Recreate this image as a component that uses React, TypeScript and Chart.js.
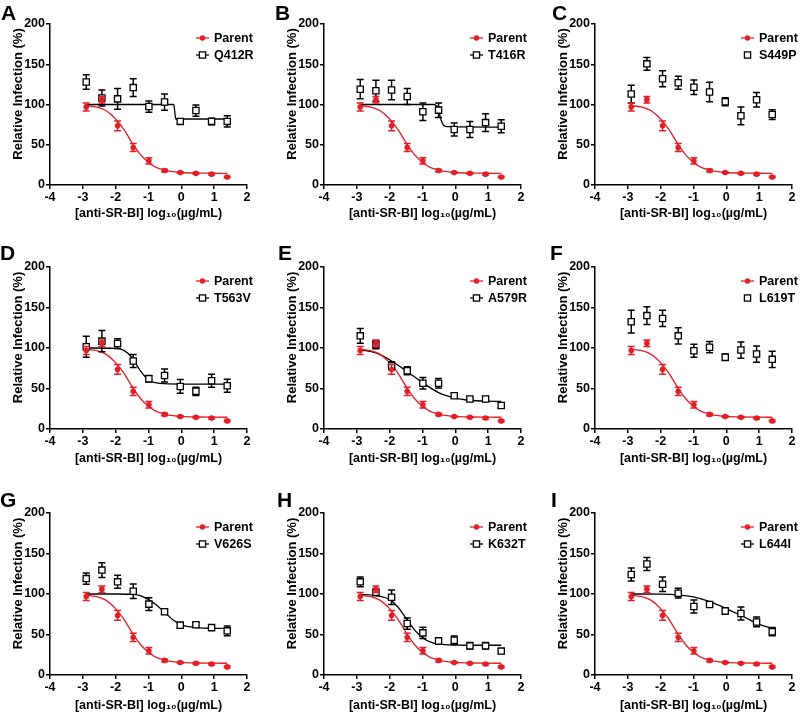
import { useEffect, useRef } from 'react';
import { Chart, registerables } from 'chart.js';

Chart.register(...registerables);

const FONT = 'Arial, "Liberation Sans", Helvetica, sans-serif';
const RED = '#e41e26';
const BLACK = '#000000';

// ---------- data ----------
const panelLetters = ['A', 'B', 'C', 'D', 'E', 'F', 'G', 'H', 'I'];
const parentName = 'Parent';
const mutantNames = ['Q412R', 'T416R', 'S449P', 'T563V', 'A579R', 'L619T', 'V626S', 'K632T', 'L644I'];
const xTickMin = -4;
const xTickMax = 2;
const yTickMax = 200;
const xTitle = '[anti-SR-BI] log₁₀(µg/mL)';
const yTitle = 'Relative Infection (%)';

// log10 of antibody concentration (µg/mL)
const logConc = [-2.896, -2.419, -1.942, -1.465, -0.988, -0.511, -0.033, 0.444, 0.921, 1.398];

const parentMean = [97, 106, 73.5, 46.5, 30, 18, 15.5, 14.5, 13.5, 10];
const parentSem = [5, 4, 6, 5, 4, 1.5, 1, 1, 1, 1];
const parentFitX = [-2.9, -2.6, -2.3, -2.0, -1.75, -1.5, -1.25, -1.0, -0.75, -0.5, -0.25, 0, 0.5, 1.0, 1.4];
const parentFitY = [98.5, 97, 92.5, 82, 69, 52.5, 38, 28, 21.5, 18.5, 16.5, 15.5, 14.8, 14.6, 14.5];

const q412rMean = [128, 108, 107, 121, 97.5, 103, 79, 92.5, 79, 79];
const q412rSem = [9, 10, 13, 11, 7, 10, 3, 7, 4, 7];
const q412rFitX = [-2.9, -0.23, -0.2, -0.17, 1.4];
const q412rFitY = [100, 100, 91, 82, 82];

const t416rMean = [119, 117, 118, 110, 91, 93, 69, 69, 77.5, 73];
const t416rSem = [12, 13, 12, 10, 11, 9, 8, 10, 11, 8];
const t416rFitX = [-2.9, -0.65, -0.55, -0.5, -0.45, -0.4, -0.35, -0.25, 1.4];
const t416rFitY = [100, 100, 97, 91, 83, 77, 74, 72.5, 72];

const s449pMean = [113, 150.5, 132, 127, 121.5, 115.5, 103.5, 86, 106, 87.5];
const s449pSem = [11, 8, 10, 8, 9, 12, 5, 11, 9, 6];

const t563vMean = [101.5, 108.5, 105.5, 84, 62, 66, 52.5, 46.5, 59.5, 53.5];
const t563vSem = [13, 13, 6, 8, 4, 8, 8.5, 5, 8, 8];
const t563vFitX = [-2.9, -2.0, -1.75, -1.5, -1.25, -1.0, -0.75, -0.5, 0, 1.4];
const t563vFitY = [100, 99.5, 97, 88, 72, 60.5, 57, 56, 55.5, 55.3];

const a579rMean = [115, 104, 78, 72, 56.5, 56.5, 41, 37, 37, 29];
const a579rSem = [9, 5, 5, 5, 7, 6, 3, 2, 3, 3];
const a579rFitX = [-2.9, -2.42, -1.94, -1.47, -0.99, -0.51, -0.03, 0.44, 0.92, 1.4];
const a579rFitY = [98, 94, 84, 71, 57, 45, 38.5, 35.5, 34.3, 34];

const l619tMean = [132.5, 140, 136.5, 115, 96.5, 101, 88.5, 97.5, 92.5, 86];
const l619tSem = [14, 11, 10, 10, 8, 7, 4, 10, 10, 10];

const v626sMean = [119, 129.5, 115, 103.5, 87.5, 78, 61.5, 62, 58.5, 54.5];
const v626sSem = [7, 9, 8, 9, 8, 3, 3.5, 3, 3, 6];
const v626sFitX = [-2.9, -2, -1.5, -1.25, -1.0, -0.75, -0.5, -0.25, 0, 0.5, 1, 1.4];
const v626sFitY = [100, 100, 99.5, 98, 93, 86, 77, 68, 62, 58.5, 57.6, 57.4];

const k632tMean = [115, 102, 96, 63.5, 52, 42, 43, 36, 36, 29.5];
const k632tSem = [6, 4, 9, 7, 7, 4, 5, 4, 4, 3];
const k632tFitX = [-2.9, -2.42, -2.0, -1.75, -1.5, -1.25, -1.0, -0.75, -0.5, 0, 1.4];
const k632tFitY = [99.5, 98, 93, 84, 70, 56, 46, 40.5, 38, 37, 36.7];

const l644iMean = [124, 137, 112, 101, 84.5, 87, 79, 76, 65.5, 53.5];
const l644iSem = [8, 8, 9, 6, 8, 3, 4, 8, 6, 5];
const l644iFitX = [-2.9, -2, -1.5, -1, -0.5, 0, 0.5, 1, 1.4];
const l644iFitY = [100, 99.8, 99, 96.5, 90.5, 82, 72.5, 62.5, 57.5];

const mutantMeans = [q412rMean, t416rMean, s449pMean, t563vMean, a579rMean, l619tMean, v626sMean, k632tMean, l644iMean];
const mutantSems = [q412rSem, t416rSem, s449pSem, t563vSem, a579rSem, l619tSem, v626sSem, k632tSem, l644iSem];
const mutantFitXs: (number[] | null)[] = [q412rFitX, t416rFitX, null, t563vFitX, a579rFitX, null, v626sFitX, k632tFitX, l644iFitX];
const mutantFitYs: (number[] | null)[] = [q412rFitY, t416rFitY, null, t563vFitY, a579rFitY, null, v626sFitY, k632tFitY, l644iFitY];

// ---------- layout ----------
const colX = [0, 274, 545];
const rowY = [0, 243, 489];
const rowH = [221, 223, 224];
const plotH = [161, 162, 162];
const PANEL_W = 255;
const PAD_TOP = 24;
const PAD_RIGHT = 8;
const Y_AXIS_W = 50;
const letterDX = [1, 1, 7, 0, 4, 5, 0, 3, 6];
const letterBaseline = [20, 17, 18];

const toPts = (xs: number[], ys: number[]) => xs.map((x, i) => ({ x, y: ys[i] }));

// ---------- plugins ----------
const errorBarPlugin = {
  id: 'errorBars',
  beforeDatasetDraw(chart: any, args: any) {
    const ds = chart.data.datasets[args.index];
    if (!ds.errors) return;
    const ctx = chart.ctx;
    const ys = chart.scales.y;
    ctx.save();
    ctx.strokeStyle = ds.barColor;
    ctx.lineWidth = 1.5;
    args.meta.data.forEach((pt: any, i: number) => {
      const v = ds.data[i].y;
      const e = ds.errors[i];
      const top = ys.getPixelForValue(v + e);
      const bot = ys.getPixelForValue(v - e);
      ctx.beginPath();
      ctx.moveTo(pt.x, top);
      ctx.lineTo(pt.x, bot);
      ctx.moveTo(pt.x - 3.5, top);
      ctx.lineTo(pt.x + 3.5, top);
      ctx.moveTo(pt.x - 3.5, bot);
      ctx.lineTo(pt.x + 3.5, bot);
      ctx.stroke();
    });
    ctx.restore();
  },
};

const decorPlugin = {
  id: 'decor',
  afterDraw(chart: any, _args: any, opts: any) {
    const { ctx, chartArea } = chart;
    const { left, top, bottom } = chartArea;
    ctx.save();
    // panel letter
    ctx.fillStyle = BLACK;
    ctx.font = `bold 21px ${FONT}`;
    ctx.textAlign = 'left';
    ctx.textBaseline = 'alphabetic';
    ctx.fillText(opts.letter, opts.letterX, opts.letterY);
    // y title
    ctx.save();
    ctx.translate(18, (top + bottom) / 2 - 10.5);
    ctx.rotate(-Math.PI / 2);
    ctx.font = `bold 13px ${FONT}`;
    ctx.textAlign = 'center';
    ctx.textBaseline = 'middle';
    ctx.fillText(yTitle, 0, 0);
    ctx.restore();
    // legend
    const entries = opts.entries;
    entries.forEach((en: any, k: number) => {
      const cy = top + 14 + k * 17;
      const x0 = left + 146;
      const x1 = left + 159;
      const cx = (x0 + x1) / 2;
      if (en.line) {
        ctx.strokeStyle = en.color;
        ctx.lineWidth = 1.3;
        ctx.beginPath();
        ctx.moveTo(x0, cy);
        ctx.lineTo(x1, cy);
        ctx.stroke();
      }
      if (en.marker === 'circle') {
        ctx.fillStyle = en.color;
        ctx.beginPath();
        ctx.arc(cx, cy, 2.7, 0, Math.PI * 2);
        ctx.fill();
      } else {
        ctx.fillStyle = '#ffffff';
        ctx.strokeStyle = en.color;
        ctx.lineWidth = 1.3;
        ctx.fillRect(cx - 3.1, cy - 3.1, 6.2, 6.2);
        ctx.strokeRect(cx - 3.1, cy - 3.1, 6.2, 6.2);
      }
      ctx.fillStyle = BLACK;
      ctx.font = `bold 12.5px ${FONT}`;
      ctx.textAlign = 'left';
      ctx.textBaseline = 'middle';
      ctx.fillText(en.label, left + 164, cy + 0.5);
    });
    ctx.restore();
  },
};

function buildConfig(idx: number): any {
  const row = Math.floor(idx / 3);
  const fx = mutantFitXs[idx];
  const fy = mutantFitYs[idx];
  const datasets: any[] = [
    {
      type: 'line',
      label: parentName,
      data: toPts(logConc, parentMean),
      errors: parentSem,
      barColor: RED,
      showLine: false,
      pointStyle: 'circle',
      pointRadius: 2.8,
      backgroundColor: RED,
      borderColor: RED,
      pointBorderWidth: 0,
      order: 0,
    },
    {
      type: 'line',
      label: mutantNames[idx],
      data: toPts(logConc, mutantMeans[idx]),
      errors: mutantSems[idx],
      barColor: BLACK,
      showLine: false,
      pointStyle: 'rect',
      pointRadius: 4.4,
      backgroundColor: '#ffffff',
      borderColor: BLACK,
      pointBorderWidth: 1.3,
      order: 1,
    },
    {
      type: 'line',
      label: parentName + ' fit',
      data: toPts(parentFitX, parentFitY),
      borderColor: RED,
      borderWidth: 1.3,
      pointRadius: 0,
      fill: false,
      cubicInterpolationMode: 'monotone',
      order: 2,
    },
  ];
  if (fx && fy) {
    datasets.push({
      type: 'line',
      label: mutantNames[idx] + ' fit',
      data: toPts(fx, fy),
      borderColor: BLACK,
      borderWidth: 1.3,
      pointRadius: 0,
      fill: false,
      cubicInterpolationMode: 'monotone',
      order: 3,
    });
  }
  const axisGrid = {
    display: true,
    drawOnChartArea: false,
    drawTicks: true,
    tickLength: 4,
    color: BLACK,
    lineWidth: 1.5,
  };
  const axisBorder = { display: true, color: BLACK, width: 1.5 };
  const tickFont = { family: FONT, size: 12.5, weight: 'bold' };
  const xAxisH = rowH[row] - PAD_TOP - plotH[row];
  return {
    type: 'line',
    data: { datasets },
    options: {
      animation: false,
      responsive: false,
      events: [],
      layout: { padding: { left: 0, top: PAD_TOP, right: PAD_RIGHT, bottom: 0 } },
      plugins: {
        legend: { display: false },
        tooltip: { enabled: false },
        decor: {
          letter: panelLetters[idx],
          letterX: letterDX[idx],
          letterY: letterBaseline[row],
          entries: [
            { label: parentName, color: RED, marker: 'circle', line: true },
            { label: mutantNames[idx], color: BLACK, marker: 'square', line: !!fx },
          ],
        },
      },
      scales: {
        x: {
          type: 'linear',
          min: xTickMin,
          max: xTickMax,
          ticks: { stepSize: 1, font: tickFont, color: BLACK, padding: 1 },
          grid: axisGrid,
          border: axisBorder,
          title: {
            display: true,
            text: xTitle,
            color: BLACK,
            font: { family: FONT, size: 12.5, weight: 'bold' },
            padding: 0,
          },
          afterFit(s: any) {
            s.height = xAxisH;
          },
        },
        y: {
          type: 'linear',
          min: 0,
          max: yTickMax,
          ticks: { stepSize: 50, font: tickFont, color: BLACK, padding: 1 },
          grid: axisGrid,
          border: axisBorder,
          title: { display: false },
          afterFit(s: any) {
            s.width = Y_AXIS_W;
          },
        },
      },
    },
    plugins: [errorBarPlugin, decorPlugin],
  };
}

function Panel({ idx }: { idx: number }) {
  const ref = useRef<HTMLCanvasElement>(null);
  const row = Math.floor(idx / 3);
  const col = idx % 3;
  useEffect(() => {
    const chart = new Chart(ref.current as HTMLCanvasElement, buildConfig(idx));
    return () => chart.destroy();
  }, [idx]);
  return (
    <canvas
      ref={ref}
      width={PANEL_W}
      height={rowH[row]}
      style={{
        position: 'absolute',
        left: colX[col],
        top: rowY[row],
        width: PANEL_W,
        height: rowH[row],
      }}
    />
  );
}

export default function App() {
  return (
    <div
      style={{
        position: 'absolute',
        left: 0,
        top: 0,
        width: 800,
        height: 713,
        background: '#ffffff',
        overflow: 'hidden',
      }}
    >
      {panelLetters.map((_, i) => (
        <Panel key={i} idx={i} />
      ))}
    </div>
  );
}
